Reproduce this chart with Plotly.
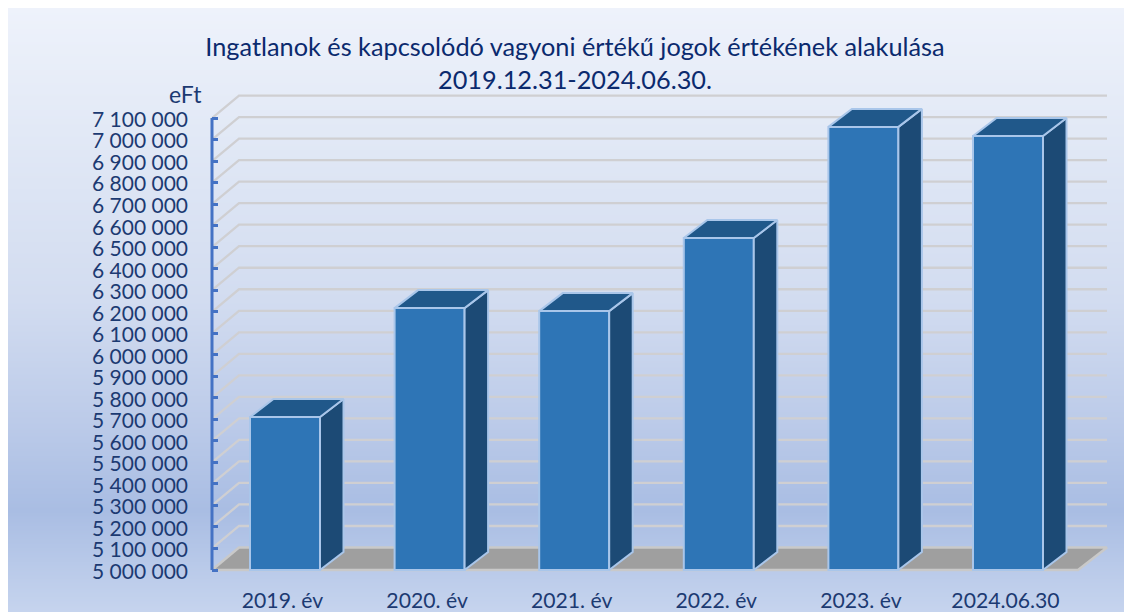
import numpy as np
import plotly.graph_objects as go

# ---- data ----
categories = ["2019. év", "2020. év", "2021. év", "2022. év", "2023. év", "2024.06.30"]
values = [5711000, 6217000, 6203000, 6543000, 7059000, 7017000]
tick_values = [5000000 + 100000 * i for i in range(22)]
tick_labels = [f"{v:,}".replace(",", " ") for v in tick_values]
title_lines = ["Ingatlanok és kapcsolódó vagyoni értékű jogok értékének alakulása", "2019.12.31-2024.06.30."]
unit_label = "eFt"

# ---- layout constants (page pixels) ----
OFF = 8
W, H = 1160, 640
X0_PX, X_STEP = 285.0, 144.6      # centre of first category, spacing
Y0_PX, Y_STEP = 570.0, 21.52      # baseline, px per 100 000
BASE = tick_values[0]
TOP = tick_values[-1]


def ax_x(p):
    return (p - X0_PX) / X_STEP


def ax_y(p):
    return BASE + (Y0_PX - p) / Y_STEP * 100000


def dx(px):
    return px / X_STEP


def dy(px):
    return px / Y_STEP * 100000


x_range = [ax_x(OFF), ax_x(OFF + W)]
y_range = [ax_y(OFF + H), ax_y(OFF)]

FONT = "Lato, Carlito, Calibri, sans-serif"
GRID = "#cfcfd2"
TEXT = "#1c3a72"
fig = go.Figure()

# background gradient (vertical)
stops = [(8, "#eef2fb"), (130, "#e2e9f6"), (300, "#d2dcf0"), (420, "#bccbe9"),
         (510, "#a9bde3"), (612, "#c6d4ee"), (660, "#c6d4ee")]
rows = np.linspace(OFF, OFF + H, 120)
stop_px = [s[0] for s in stops]
z = np.array([[np.interp(r, stop_px, range(len(stops)))] * 2 for r in rows])
fig.add_trace(go.Heatmap(
    x=x_range, y=[ax_y(r) for r in rows], z=z, zsmooth="best", showscale=False, hoverinfo="skip",
    zmin=0, zmax=len(stops) - 1,
    colorscale=[[i / (len(stops) - 1), s[1]] for i, s in enumerate(stops)],
    xaxis="x", yaxis="y"))

# walls: floor and grid
wall_dx, wall_dy = dx(27), dy(22.5)
left_x = ax_x(212.0)
right_back_x = ax_x(1107.0)
right_front_x = ax_x(1078.0)

fig.add_trace(go.Scatter(
    x=[left_x, left_x + wall_dx, right_back_x, right_front_x, left_x],
    y=[BASE, BASE + wall_dy, BASE + wall_dy, BASE, BASE],
    mode="lines", fill="toself", fillcolor="#9f9f9f", line=dict(color="#c9c9c9", width=2.5),
    hoverinfo="skip", showlegend=False, xaxis="x", yaxis="y"))
gx, gy = [], []
for v in tick_values[1:]:
    gx += [left_x, left_x + wall_dx, right_back_x, None]
    gy += [v, v + wall_dy, v + wall_dy, None]
fig.add_trace(go.Scatter(x=gx, y=gy, mode="lines", line=dict(color=GRID, width=2.3),
                         hoverinfo="skip", showlegend=False, xaxis="x", yaxis="y"))

# value axis line
fig.add_trace(go.Scatter(x=[left_x, left_x], y=[BASE, TOP], mode="lines",
                         line=dict(color="#4472c4", width=3), hoverinfo="skip",
                         showlegend=False, xaxis="x", yaxis="y"))

# bars: front face
bar_width = 70 / X_STEP
EDGE = "#a9c6ea"
xs = list(range(len(categories)))
fig.add_trace(go.Bar(
    x=xs, y=[v - BASE for v in values], base=BASE, width=bar_width,
    marker=dict(color="#2e75b6", line=dict(color=EDGE, width=2)),
    showlegend=False, xaxis="x2", yaxis="y2", customdata=values,
    hovertemplate="%{customdata:,}<extra></extra>"))

# bars: side and top faces
bdx, bdy = dx(23.5), dy(18)
for i, v in zip(xs, values):
    xl, xr = i - bar_width / 2, i + bar_width / 2
    fig.add_trace(go.Scatter(
        x=[xr, xr + bdx, xr + bdx, xr, xr], y=[BASE, BASE + bdy, v + bdy, v, BASE],
        mode="lines", fill="toself", fillcolor="#1c4a75", line=dict(color=EDGE, width=2),
        hoverinfo="skip", showlegend=False, xaxis="x2", yaxis="y2"))
    fig.add_trace(go.Scatter(
        x=[xl, xl + bdx, xr + bdx, xr, xl], y=[v, v + bdy, v + bdy, v, v],
        mode="lines", fill="toself", fillcolor="#20588a", line=dict(color=EDGE, width=2),
        hoverinfo="skip", showlegend=False, xaxis="x2", yaxis="y2"))

# empty trace that keeps the label-only axes alive
fig.add_trace(go.Scatter(x=[None], y=[None], mode="lines", hoverinfo="skip",
                         showlegend=False, xaxis="x3", yaxis="y3"))

# layout
fig.update_layout(
    width=W, height=H, margin=dict(l=0, r=0, t=0, b=0, pad=0),
    paper_bgcolor="#c6d4ee", plot_bgcolor="rgba(0,0,0,0)",
    showlegend=False, barmode="overlay",
    font=dict(family=FONT, color=TEXT),
    title=dict(text="<br>".join(title_lines), x=(575 - OFF) / W, xanchor="center",
               y=1 - (56 - OFF) / H, yanchor="middle",
               font=dict(family=FONT, size=25.3, color="#0b2a6e")),
    xaxis=dict(domain=[0, 1], range=x_range, showgrid=False, zeroline=False, showline=False,
               ticks="", showticklabels=False),
    yaxis=dict(domain=[0, 1], range=y_range, tickmode="array", tickvals=tick_values,
               showgrid=False, zeroline=False, showline=False, ticks="inside", ticklen=6, tickwidth=2.5,
               tickcolor="#4472c4", anchor="free", position=(211.0 - OFF) / W, showticklabels=False),
    xaxis2=dict(domain=[0, 1], range=x_range, overlaying="x", visible=False),
    yaxis2=dict(domain=[0, 1], range=y_range, overlaying="y", visible=False),
    xaxis3=dict(domain=[0, 1], range=[x_range[0] + dx(2.5), x_range[1] + dx(2.5)], overlaying="x",
                tickmode="array", tickvals=xs, ticktext=categories,
                showgrid=False, zeroline=False, showline=False, ticks="",
                anchor="free", position=(OFF + H - Y0_PX) / H, ticklabelstandoff=16,
                tickfont=dict(family=FONT, size=21.2, color=TEXT)),
    yaxis3=dict(domain=[0, 1], range=[y_range[0] + dy(1.5), y_range[1] + dy(1.5)], overlaying="y",
                tickmode="array", tickvals=tick_values, ticktext=tick_labels,
                showgrid=False, zeroline=False, showline=False, ticks="",
                anchor="free", position=(211.0 - OFF) / W, ticklabelstandoff=23,
                tickfont=dict(family=FONT, size=21, color=TEXT)),
    annotations=[dict(text=unit_label, xref="paper", yref="paper", x=(185 - OFF) / W,
                      y=1 - (94 - OFF) / H, showarrow=False, xanchor="center", yanchor="middle",
                      font=dict(family=FONT, size=23, color=TEXT))],
)

fig.write_html("out.html", config=dict(displayModeBar=False),
               post_script="document.documentElement.style.overflow='hidden';")
